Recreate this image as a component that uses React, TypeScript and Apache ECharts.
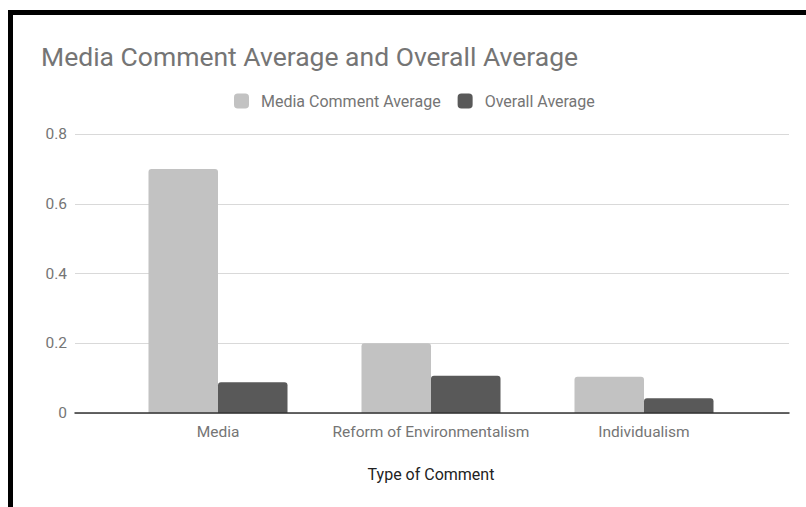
import React, { useEffect, useRef } from "react";
import * as echarts from "echarts";

const categories = ["Media", "Reform of Environmentalism", "Individualism"];
const mediaCommentAverage = [0.7, 0.2, 0.104];
const overallAverage = [0.088, 0.107, 0.042];
const seriesNames = ["Media Comment Average", "Overall Average"];
const titleText = "Media Comment Average and Overall Average";
const xAxisTitle = "Type of Comment";

const FONT = "Roboto, 'Noto Sans', sans-serif";

export default function App() {
  const ref = useRef<HTMLDivElement>(null);
  useEffect(() => {
    if (!ref.current) return;
    const chart = echarts.init(ref.current, undefined, { renderer: "svg" });
    chart.setOption({
      animation: false,
      backgroundColor: "#ffffff",
      title: {
        text: titleText,
        left: 36,
        top: 38,
        textStyle: { fontFamily: FONT, fontSize: 26.5, fontWeight: "normal", color: "#757575" },
      },
      legend: {
        top: 88,
        left: 229,
        itemWidth: 15,
        itemHeight: 15,
        itemGap: 17,
        icon: "roundRect",
        data: seriesNames,
        textStyle: { fontFamily: FONT, fontSize: 16, color: "#757575", padding: [0, 0, 0, 7] },
      },
      graphic: [
        { type: "rect", shape: { x: 8, y: 10, width: 798, height: 5 }, style: { fill: "#000" }, z: 100 },
        { type: "rect", shape: { x: 8, y: 10, width: 5, height: 497 }, style: { fill: "#000" }, z: 100 },
      ],
      grid: [
        { left: 75, right: 17, top: 134, bottom: 94 },
        { left: 111.5, right: 55.5, top: 134, bottom: 94 },
      ],
      xAxis: [
        {
          gridIndex: 0,
          type: "value",
          min: 0,
          max: 1,
          axisLine: { show: true, lineStyle: { color: "#333333", width: 1.5 } },
          axisTick: { show: false },
          axisLabel: { show: false },
          splitLine: { show: false },
          z: 10,
        },
        {
          gridIndex: 1,
          type: "category",
          data: categories,
          axisLine: { show: false },
          axisTick: { show: false },
          axisLabel: { interval: 0, margin: 11, fontFamily: FONT, fontSize: 15.5, color: "#757575" },
          name: xAxisTitle,
          nameLocation: "middle",
          nameGap: 53,
          nameTextStyle: { fontFamily: FONT, fontSize: 16, color: "#222222" },
        },
      ],
      yAxis: [
        {
          gridIndex: 0,
          type: "value",
          min: 0,
          max: 0.8,
          interval: 0.2,
          axisLine: { show: false },
          axisTick: { show: false },
          axisLabel: { margin: 8, fontFamily: FONT, fontSize: 15.5, color: "#757575" },
          splitLine: { show: true, lineStyle: { color: "#d9d9d9", width: 1 } },
        },
        {
          gridIndex: 1,
          type: "value",
          min: 0,
          max: 0.8,
          interval: 0.2,
          show: false,
          splitLine: { show: false },
        },
      ],
      series: [
        {
          name: seriesNames[0],
          type: "bar",
          xAxisIndex: 1,
          yAxisIndex: 1,
          data: mediaCommentAverage,
          barWidth: 69.5,
          barGap: "0%",
          itemStyle: { color: "#c2c2c2", borderRadius: [3, 3, 0, 0] },
        },
        {
          name: seriesNames[1],
          type: "bar",
          xAxisIndex: 1,
          yAxisIndex: 1,
          data: overallAverage,
          barWidth: 69.5,
          barGap: "0%",
          itemStyle: { color: "#595959", borderRadius: [3, 3, 0, 0] },
        },
      ],
    });
    return () => chart.dispose();
  }, []);
  return <div ref={ref} style={{ width: 806, height: 507, position: "absolute", left: 0, top: 0 }} />;
}
